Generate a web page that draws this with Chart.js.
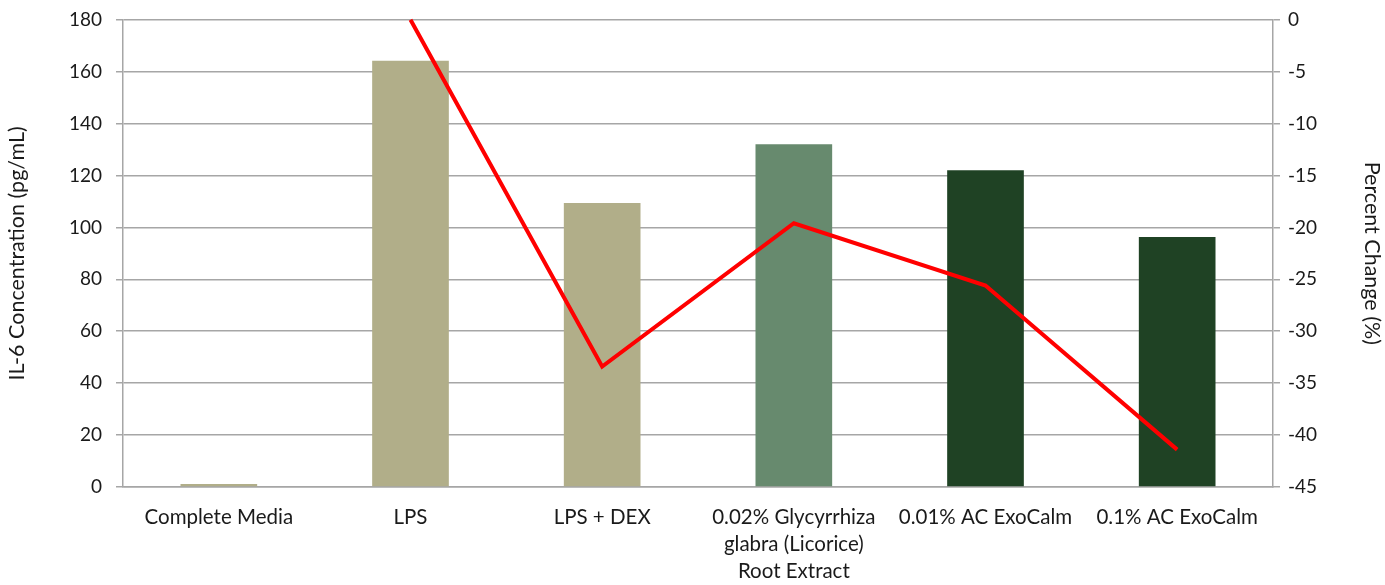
<!DOCTYPE html>
<html>
<head>
<meta charset="utf-8">
<script src="https://cdn.jsdelivr.net/npm/chart.js@4/dist/chart.umd.min.js"></script>
<style>
  html, body { margin: 0; padding: 0; background: #fff; overflow: hidden; }
</style>
</head>
<body>
<canvas id="myChart" width="1385" height="585"></canvas>
<script>
// data
const categories = [
  'Complete Media',
  'LPS',
  'LPS + DEX',
  ['0.02% Glycyrrhiza', 'glabra (Licorice)', 'Root Extract'],
  '0.01% AC ExoCalm',
  '0.1% AC ExoCalm'
];
const il6Values = [1.2, 164.2, 109.4, 132, 122, 96.3];
const percentChange = [null, 0, -33.4, -19.6, -25.6, -41.4];
const barColors = ['#b1ae89', '#b1ae89', '#b1ae89', '#678a6e', '#1f4224', '#1f4224'];
const leftTicks = [0, 180, 20];
const rightTicks = [-45, 0, 5];

const gridCol = '#a6a6a6';
const txtCol = '#1a1a1a';
Chart.defaults.font.family = 'Lato, "Open Sans", sans-serif';
Chart.defaults.color = txtCol;

const ctx = document.getElementById('myChart').getContext('2d');
const myChart = new Chart(ctx, {
  type: 'bar',
  data: {
    labels: categories,
    datasets: [
      {
        type: 'line',
        label: 'Percent Change',
        data: percentChange,
        yAxisID: 'y2',
        borderColor: '#ff0000',
        backgroundColor: '#ff0000',
        borderWidth: 4,
        pointRadius: 0,
        tension: 0,
        order: 0,
        clip: false
      },
      {
        label: 'IL-6',
        data: il6Values,
        yAxisID: 'y',
        backgroundColor: barColors,
        borderWidth: 0,
        categoryPercentage: 1,
        barPercentage: 0.4,
        order: 1
      }
    ]
  },
  options: {
    responsive: false,
    animation: false,
    layout: { padding: { top: 18, left: 4, right: 0, bottom: 0 } },
    plugins: { legend: { display: false }, tooltip: { enabled: false } },
    scales: {
      x: {
        grid: { display: false, drawTicks: false },
        border: { display: true, color: gridCol, width: 1.5 },
        ticks: { font: { size: 20.5, lineHeight: 1.32 }, maxRotation: 0, autoSkip: false, padding: 17, color: txtCol },
        afterFit: (s) => { s.height = 98; }
      },
      y: {
        position: 'left',
        min: leftTicks[0], max: leftTicks[1],
        ticks: { stepSize: leftTicks[2], font: { size: 19, lineHeight: 0.6 }, padding: 14, color: txtCol },
        grid: { color: gridCol, lineWidth: 1.5, tickLength: 7 },
        border: { display: true, color: gridCol, width: 1.5 },
        title: { display: true, text: 'IL-6 Concentration (pg/mL)', font: { size: 21.5 }, color: txtCol, padding: 0 },
        afterFit: (s) => { s.width = 119; }
      },
      y2: {
        position: 'right',
        min: rightTicks[0], max: rightTicks[1],
        ticks: { stepSize: rightTicks[2], font: { size: 19, lineHeight: 0.6 }, padding: 8, color: txtCol },
        grid: { drawOnChartArea: false, color: gridCol, lineWidth: 1.5, tickLength: 7 },
        border: { display: true, color: gridCol, width: 1.5 },
        title: { display: true, text: 'Percent Change (%)', font: { size: 21.5 }, color: txtCol, padding: 0 },
        afterFit: (s) => { s.width = 112; }
      }
    }
  }
});
</script>
</body>
</html>
